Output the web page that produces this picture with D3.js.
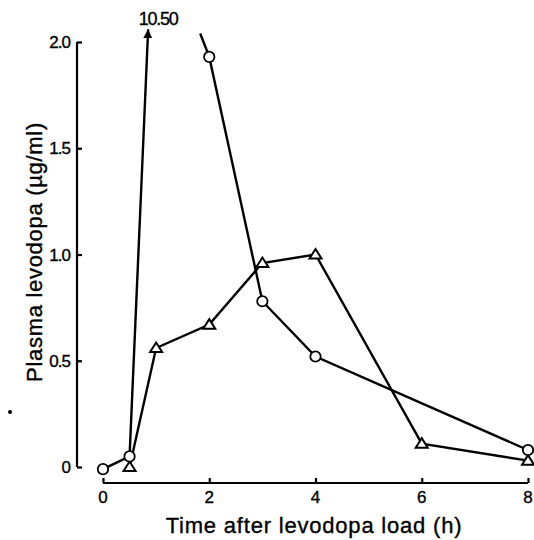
<!DOCTYPE html>
<meta charset="utf-8">
<html>
<head>
  <style>
  body { margin: 0; background: #fff; }
  text { font-family: "Liberation Sans", Arial, sans-serif; fill: #000; stroke: #000; stroke-width: 0.35px; }
  .axis path, .axis line { stroke: #000; stroke-width: 2.2px; }
  </style>
</head>
<body>
<svg width="534" height="540"></svg>
<script src="https://d3js.org/d3.v7.min.js"></script>
<script>

// time (h)
var circleTime = [0, 0.5, 1, 2, 3, 4, 8];
var circleVal  = [-0.01, 0.05, 10.50, 1.93, 0.78, 0.52, 0.08];
var triTime    = [0.5, 1, 2, 3, 4, 6, 8];
var triVal     = [0, 0.56, 0.67, 0.96, 1.0, 0.11, 0.03];

// where the off-scale peak leaves / re-enters the plot
var peakOut = [0.85, 2.06];   // arrow tip
var peakIn  = [1.83, 2.04];   // line comes back in
var peakLabel = "10.50";

var xTicks = [0, 2, 4, 6, 8];
var yTicks = [0, 0.5, 1.0, 1.5, 2.0];
var yTickLabels = ["0", "0.5", "1.0", "1.5", "2.0"];

var svg = d3.select("svg");

var x = d3.scaleLinear().domain([0, 8]).range([103, 528]);
var y = d3.scaleLinear().domain([0, 2]).range([467, 42]);

svg.append("defs").append("marker")
    .attr("id", "arrow")
    .attr("viewBox", "0 0 10 10")
    .attr("refX", 10).attr("refY", 5)
    .attr("markerWidth", 9).attr("markerHeight", 10)
    .attr("markerUnits", "userSpaceOnUse")
    .attr("orient", "auto")
  .append("path")
    .attr("d", "M0,0L10,5L0,10z")
    .attr("fill", "#000");

// y axis
var yAxis = svg.append("g")
    .attr("class", "axis")
    .attr("transform", "translate(77,0)")
    .call(d3.axisRight(y).tickValues(yTicks).tickSize(4).tickSizeOuter(0).tickFormat(""));
yAxis.select(".domain").attr("d", "M0," + (y(2) ) + "V" + y(0));
yAxis.selectAll(".tick line").attr("x2", 5);

svg.append("g").selectAll("text")
    .data(yTicks)
    .enter().append("text")
    .attr("x", 70)
    .attr("y", function(d) { return y(d) + 6; })
    .attr("text-anchor", "end")
    .attr("font-size", 17)
    .attr("letter-spacing", -1)
    .text(function(d, i) { return yTickLabels[i]; });

// x axis
var xAxis = svg.append("g")
    .attr("class", "axis")
    .attr("transform", "translate(0,483)")
    .call(d3.axisTop(x).tickValues(xTicks).tickSize(5).tickSizeOuter(0).tickFormat(""));
xAxis.select(".domain").attr("d", "M" + x(0) + ",0H" + x(8));

svg.append("g").selectAll("text")
    .data(xTicks)
    .enter().append("text")
    .attr("x", function(d) { return x(d); })
    .attr("y", 503)
    .attr("text-anchor", "middle")
    .attr("font-size", 17)
    .text(function(d) { return d; });

// axis titles
svg.append("text")
    .attr("x", 314).attr("y", 533)
    .attr("text-anchor", "middle")
    .attr("font-size", 22)
    .attr("letter-spacing", 0.8)
    .text("Time after levodopa load (h)");

svg.append("text")
    .attr("transform", "translate(42,252) rotate(-90)")
    .attr("text-anchor", "middle")
    .attr("font-size", 22)
    .attr("letter-spacing", 0.7)
    .text("Plasma levodopa (µg/ml)");

svg.append("circle").attr("cx", 10).attr("cy", 412).attr("r", 2).attr("fill", "#000");

var line = d3.line()
    .x(function(d) { return x(d[0]); })
    .y(function(d) { return y(d[1]); });

// circle series, broken around the off-scale peak
var cPts = circleTime.map(function(t, i) { return [t, circleVal[i]]; });
var peakIdx = circleVal.indexOf(d3.max(circleVal));
var before = cPts.slice(0, peakIdx);
var after = cPts.slice(peakIdx + 1);

svg.append("path")
    .attr("d", line(before))
    .attr("fill", "none").attr("stroke", "#000").attr("stroke-width", 2.4);
svg.append("path")
    .attr("d", line([before[before.length - 1], peakOut]))
    .attr("fill", "none").attr("stroke", "#000").attr("stroke-width", 2.4)
    .attr("marker-end", "url(#arrow)");
svg.append("path")
    .attr("d", line([peakIn].concat(after)))
    .attr("fill", "none").attr("stroke", "#000").attr("stroke-width", 2.4);

svg.append("text")
    .attr("x", x(peakOut[0]) + 10).attr("y", y(peakOut[1]) - 4)
    .attr("text-anchor", "middle")
    .attr("font-size", 18)
    .attr("letter-spacing", -1.2)
    .text(peakLabel);

// triangle series
var tPts = triTime.map(function(t, i) { return [t, triVal[i]]; });
svg.append("path")
    .attr("d", line(tPts))
    .attr("fill", "none").attr("stroke", "#000").attr("stroke-width", 2.4);

// markers
svg.append("g").selectAll("path")
    .data(tPts)
    .enter().append("path")
    .attr("transform", function(d) { return "translate(" + x(d[0]) + "," + y(d[1]) + ")"; })
    .attr("d", "M0,-5.5L6,4L-6,4Z")
    .attr("fill", "#fff").attr("stroke", "#000").attr("stroke-width", 2);

svg.append("g").selectAll("circle")
    .data(before.concat(after))
    .enter().append("circle")
    .attr("cx", function(d) { return x(d[0]); })
    .attr("cy", function(d) { return y(d[1]); })
    .attr("r", 5.2)
    .attr("fill", "#fff").attr("stroke", "#000").attr("stroke-width", 1.8);

</script>
</body>
</html>
